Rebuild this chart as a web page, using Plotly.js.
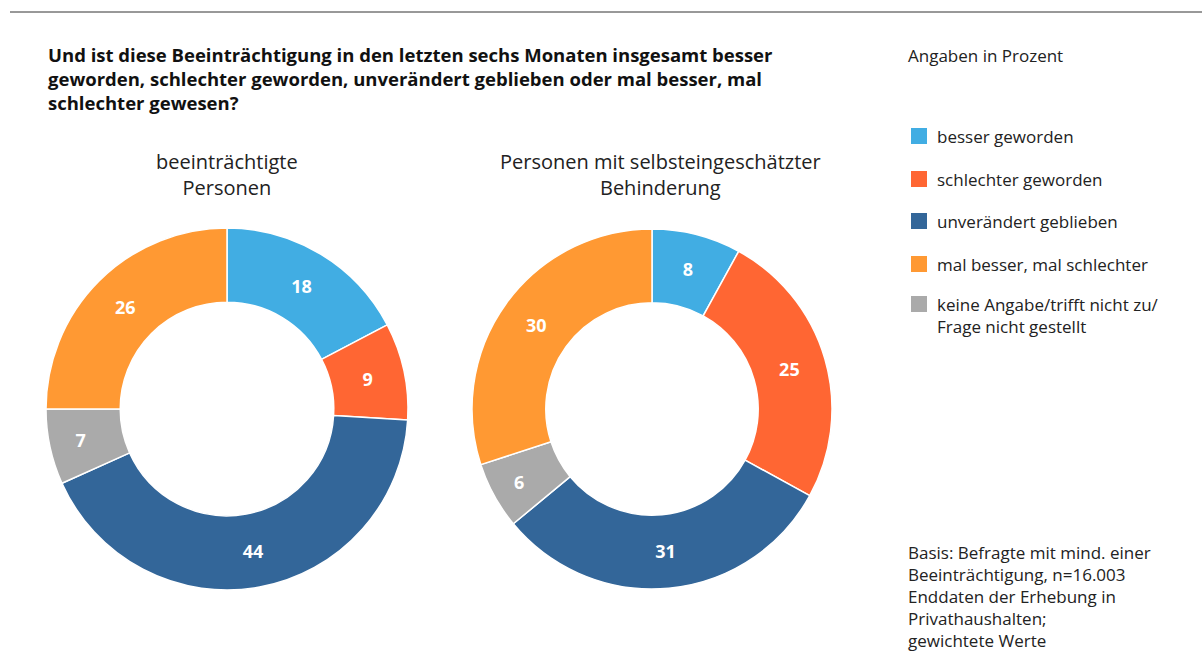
<!DOCTYPE html>
<html><head><meta charset="utf-8">
<script src="https://cdn.plot.ly/plotly-3.0.1.min.js"></script>
<style>body{margin:0;background:#fff}#chart{width:1202px;height:664px}</style>
</head><body><div id="chart"></div>
<script>
// slice order (clockwise from 12 o'clock)
const sliceLabels = ["besser geworden","schlechter geworden","unverändert geblieben","keine Angabe/trifft nicht zu/ Frage nicht gestellt","mal besser, mal schlechter"];
const sliceColors = ["#41ade3","#ff6633","#336699","#aaaaaa","#ff9933"];
const valuesBeeintraechtigt = [18, 9, 44, 7, 26];
const valuesBehinderung = [8, 25, 31, 6, 30];
const pieTitles = ["beeinträchtigte<br>Personen","Personen mit selbsteingeschätzter<br>Behinderung"];
// legend order
const legendLabels = ["besser geworden","schlechter geworden","unverändert geblieben","mal besser, mal schlechter","keine Angabe/trifft nicht zu/<br>Frage nicht gestellt"];
const legendColors = ["#41ade3","#ff6633","#336699","#ff9933","#aaaaaa"];
const titleText = "Und ist diese Beeinträchtigung in den letzten sechs Monaten insgesamt besser<br>geworden, schlechter geworden, unverändert geblieben oder mal besser, mal<br>schlechter gewesen?";
const noteText = "Basis: Befragte mit mind. einer<br>Beeinträchtigung, n=16.003<br>Enddaten der Erhebung in<br>Privathaushalten;<br>gewichtete Werte";
const unitText = "Angaben in Prozent";

const W = 1202, H = 664;
const FONT = "'Open Sans', 'Noto Sans', sans-serif";
function dom(cx, cy, r){
  return {x:[(cx-r)/W,(cx+r)/W], y:[(H-cy-r)/H,(H-cy+r)/H]};
}
function pie(vals, d){
  return {type:'pie', values:vals, labels:sliceLabels, sort:false, direction:'clockwise', rotation:0,
    hole:0.59, domain:d, marker:{colors:sliceColors, line:{color:'#ffffff', width:1.5}},
    textinfo:'value', textposition:'inside', insidetextorientation:'horizontal',
    textfont:{family:FONT, size:18, color:'#ffffff', weight:'bold'}, showlegend:false, hoverinfo:'label+value'};
}
const data = [pie(valuesBeeintraechtigt, dom(227,409,181)), pie(valuesBehinderung, dom(652,409,180))];

const annotations = [
  {text:titleText, x:46/W, y:1-40/H, xref:'paper', yref:'paper', xanchor:'left', yanchor:'top', align:'left', showarrow:false,
   font:{family:FONT, size:18.5, color:'#111', weight:'bold'}},
  {text:pieTitles[0], x:227/W, y:1-146/H, xref:'paper', yref:'paper', xanchor:'center', yanchor:'top', align:'center', showarrow:false,
   font:{family:FONT, size:20, color:'#222'}},
  {text:pieTitles[1], x:660/W, y:1-146/H, xref:'paper', yref:'paper', xanchor:'center', yanchor:'top', align:'center', showarrow:false,
   font:{family:FONT, size:20, color:'#222'}},
  {text:unitText, x:906/W, y:1-42/H, xref:'paper', yref:'paper', xanchor:'left', yanchor:'top', align:'left', showarrow:false,
   font:{family:FONT, size:17, color:'#222'}},
  {text:noteText, x:906/W, y:1-539/H, xref:'paper', yref:'paper', xanchor:'left', yanchor:'top', align:'left', showarrow:false,
   font:{family:FONT, size:17, color:'#222'}}
];
const shapes = [{type:'line', xref:'paper', yref:'paper', x0:10/W, x1:1, y0:1-12/H, y1:1-12/H, line:{color:'#333', width:1}}];
const legendY = [136,179,221,264,304];
legendLabels.forEach((lab,i)=>{
  const cy = legendY[i];
  shapes.push({type:'rect', xref:'paper', yref:'paper', x0:911/W, x1:927/W, y0:1-(cy+8)/H, y1:1-(cy-8)/H, fillcolor:legendColors[i], line:{width:0}});
  annotations.push({text:lab, x:935/W, y:1-(cy-13)/H, xref:'paper', yref:'paper', xanchor:'left', yanchor:'top', align:'left', showarrow:false,
    font:{family:FONT, size:17, color:'#222'}});
});

Plotly.newPlot('chart', data, {width:W, height:H, margin:{l:0,r:0,t:0,b:0}, paper_bgcolor:'#fff', plot_bgcolor:'#fff',
  annotations, shapes, showlegend:false}, {displayModeBar:false, staticPlot:true});
</script></body></html>
